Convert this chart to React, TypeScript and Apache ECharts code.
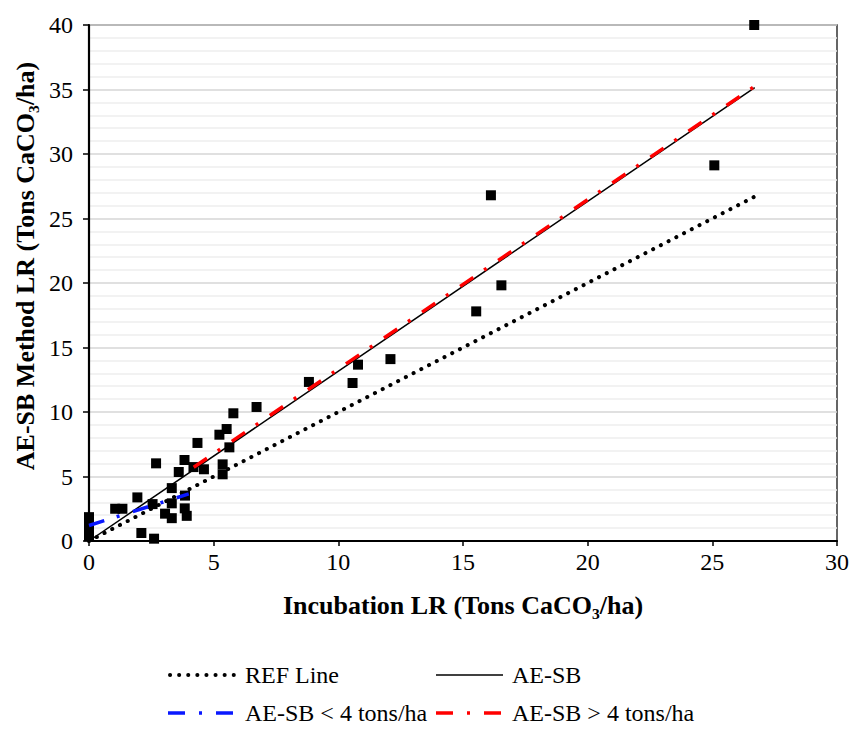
import React, { useEffect, useRef } from "react";
import * as echarts from "echarts";

// Observed pairs: [Incubation LR, AE-SB Method LR]
const observations: [number, number][] = [
  [0, 1.85], [0, 1.35], [0, 0.85], [0, 0.35],
  [1.05, 2.5], [1.34, 2.5], [1.94, 3.38], [2.1, 0.62], [2.61, 0.18],
  [2.55, 2.86], [2.69, 6.02], [3.05, 2.12], [3.32, 1.77], [3.32, 2.92],
  [3.32, 4.1], [3.6, 5.35], [3.83, 6.28], [3.85, 3.52], [3.84, 2.53],
  [3.92, 1.95], [4.19, 5.73], [4.35, 7.6], [4.61, 5.56], [5.23, 8.24],
  [5.36, 5.94], [5.36, 5.17], [5.52, 8.68], [5.63, 7.26], [5.79, 9.9],
  [6.72, 10.39], [8.82, 12.33], [10.57, 12.25], [10.79, 13.67],
  [12.09, 14.1], [15.53, 17.8], [16.12, 26.8], [16.54, 19.82],
  [25.08, 29.12], [26.68, 40.0],
];
const refLine: [number, number][] = [[0, 0], [26.7, 26.7]];
const aesbLine: [number, number][] = [[0, 0], [26.7, 35.15]];
const aesbLow: [number, number][] = [[0, 1.2], [4.0, 3.65]];
const aesbHigh: [number, number][] = [[4.2, 5.72], [26.7, 35.25]];

const seriesNames = ["REF Line", "AE-SB", "AE-SB < 4 tons/ha", "AE-SB > 4 tons/ha"];
const xTitle = "Incubation LR (Tons CaCO\u2083/ha)";
const yTitle = "AE-SB Method LR (Tons CaCO\u2083/ha)";
const xRange = [0, 30, 5];
const yRange = [0, 40, 5];

const FONT = "Liberation Serif, Times New Roman, serif";
const dashDot = [16, 13, 3, 14];

export default function App() {
  const ref = useRef<HTMLDivElement>(null);
  useEffect(() => {
    const chart = echarts.init(ref.current!, null, { renderer: "svg" });
    const legendRow1 = 675;
    const legendRow2 = 713;
    const legendFont = `24px ${FONT}`;
    chart.setOption({
      animation: false,
      backgroundColor: "#ffffff",
      textStyle: { fontFamily: FONT },
      grid: {
        left: 89,
        right: 14,
        top: 25,
        bottom: 188,
        show: true,
        borderColor: "#333333",
        borderWidth: 1.5,
        backgroundColor: "transparent",
      },
      xAxis: {
        type: "value",
        min: xRange[0],
        max: xRange[1],
        interval: xRange[2],
        name: xTitle,
        nameLocation: "middle",
        nameGap: 51,
        nameTextStyle: { fontFamily: FONT, fontSize: 26, fontWeight: "bold", color: "#000" },
        axisLine: { show: true, lineStyle: { color: "#000", width: 2.2 } },
        axisTick: { show: true, length: 5, lineStyle: { color: "#000", width: 1.5 } },
        axisLabel: { fontFamily: FONT, fontSize: 24, color: "#000", margin: 9 },
        splitLine: { show: false },
      },
      yAxis: {
        type: "value",
        min: yRange[0],
        max: yRange[1],
        interval: yRange[2],
        axisLine: { show: true, lineStyle: { color: "#000", width: 2.2 } },
        axisTick: { show: true, length: 6, lineStyle: { color: "#000", width: 1.5 } },
        axisLabel: { fontFamily: FONT, fontSize: 24, color: "#000", margin: 16 },
        splitLine: { show: true, lineStyle: { color: "#d6d6d6", width: 1.6 } },
        minorTick: { show: false, splitNumber: 5 },
        minorSplitLine: { show: true, lineStyle: { color: "#eeeeee", width: 1.6 } },
      },
      series: [
        {
          name: "Observations",
          type: "scatter",
          data: observations,
          symbol: "rect",
          symbolSize: 10,
          itemStyle: { color: "#000", opacity: 1 },
          z: 2,
        },
        {
          name: seriesNames[0],
          type: "line",
          data: refLine,
          symbol: "none",
          lineStyle: { color: "#000", width: 4, type: [0.1, 8.6], cap: "round" },
          z: 3,
        },
        {
          name: seriesNames[1],
          type: "line",
          data: aesbLine,
          symbol: "none",
          lineStyle: { color: "#000", width: 1.5, type: "solid" },
          z: 3,
        },
        {
          name: seriesNames[2],
          type: "line",
          data: aesbLow,
          symbol: "none",
          lineStyle: { color: "#0a18ff", width: 3.5, type: dashDot },
          z: 4,
        },
        {
          name: seriesNames[3],
          type: "line",
          data: aesbHigh,
          symbol: "none",
          lineStyle: { color: "#ff0000", width: 3.5, type: dashDot },
          z: 4,
        },
      ],
      graphic: [
        {
          type: "text",
          x: 25,
          y: 266,
          rotation: Math.PI / 2,
          style: {
            text: yTitle,
            font: `bold 26px ${FONT}`,
            fill: "#000",
            align: "center",
            verticalAlign: "middle",
          },
        },
        {
          type: "line",
          shape: { x1: 170, y1: legendRow1, x2: 234, y2: legendRow1 },
          style: { stroke: "#000", lineWidth: 4, lineDash: [0.1, 9], lineCap: "round" },
        },
        {
          type: "text",
          x: 245,
          y: legendRow1,
          style: { text: seriesNames[0], font: legendFont, fill: "#000", verticalAlign: "middle" },
        },
        {
          type: "line",
          shape: { x1: 436, y1: legendRow1, x2: 503, y2: legendRow1 },
          style: { stroke: "#000", lineWidth: 1.5 },
        },
        {
          type: "text",
          x: 512,
          y: legendRow1,
          style: { text: seriesNames[1], font: legendFont, fill: "#000", verticalAlign: "middle" },
        },
        {
          type: "line",
          shape: { x1: 168, y1: legendRow2, x2: 233, y2: legendRow2 },
          style: { stroke: "#0a18ff", lineWidth: 3.5, lineDash: [17, 14, 3, 14] },
        },
        {
          type: "text",
          x: 245,
          y: legendRow2,
          style: { text: seriesNames[2], font: legendFont, fill: "#000", verticalAlign: "middle" },
        },
        {
          type: "line",
          shape: { x1: 436, y1: legendRow2, x2: 501, y2: legendRow2 },
          style: { stroke: "#ff0000", lineWidth: 3.5, lineDash: [17, 14, 3, 14] },
        },
        {
          type: "text",
          x: 512,
          y: legendRow2,
          style: { text: seriesNames[3], font: legendFont, fill: "#000", verticalAlign: "middle" },
        },
      ],
    });
    return () => chart.dispose();
  }, []);
  return (
    <div
      ref={ref}
      style={{ position: "fixed", left: 0, top: 0, width: 852, height: 729 }}
    />
  );
}
